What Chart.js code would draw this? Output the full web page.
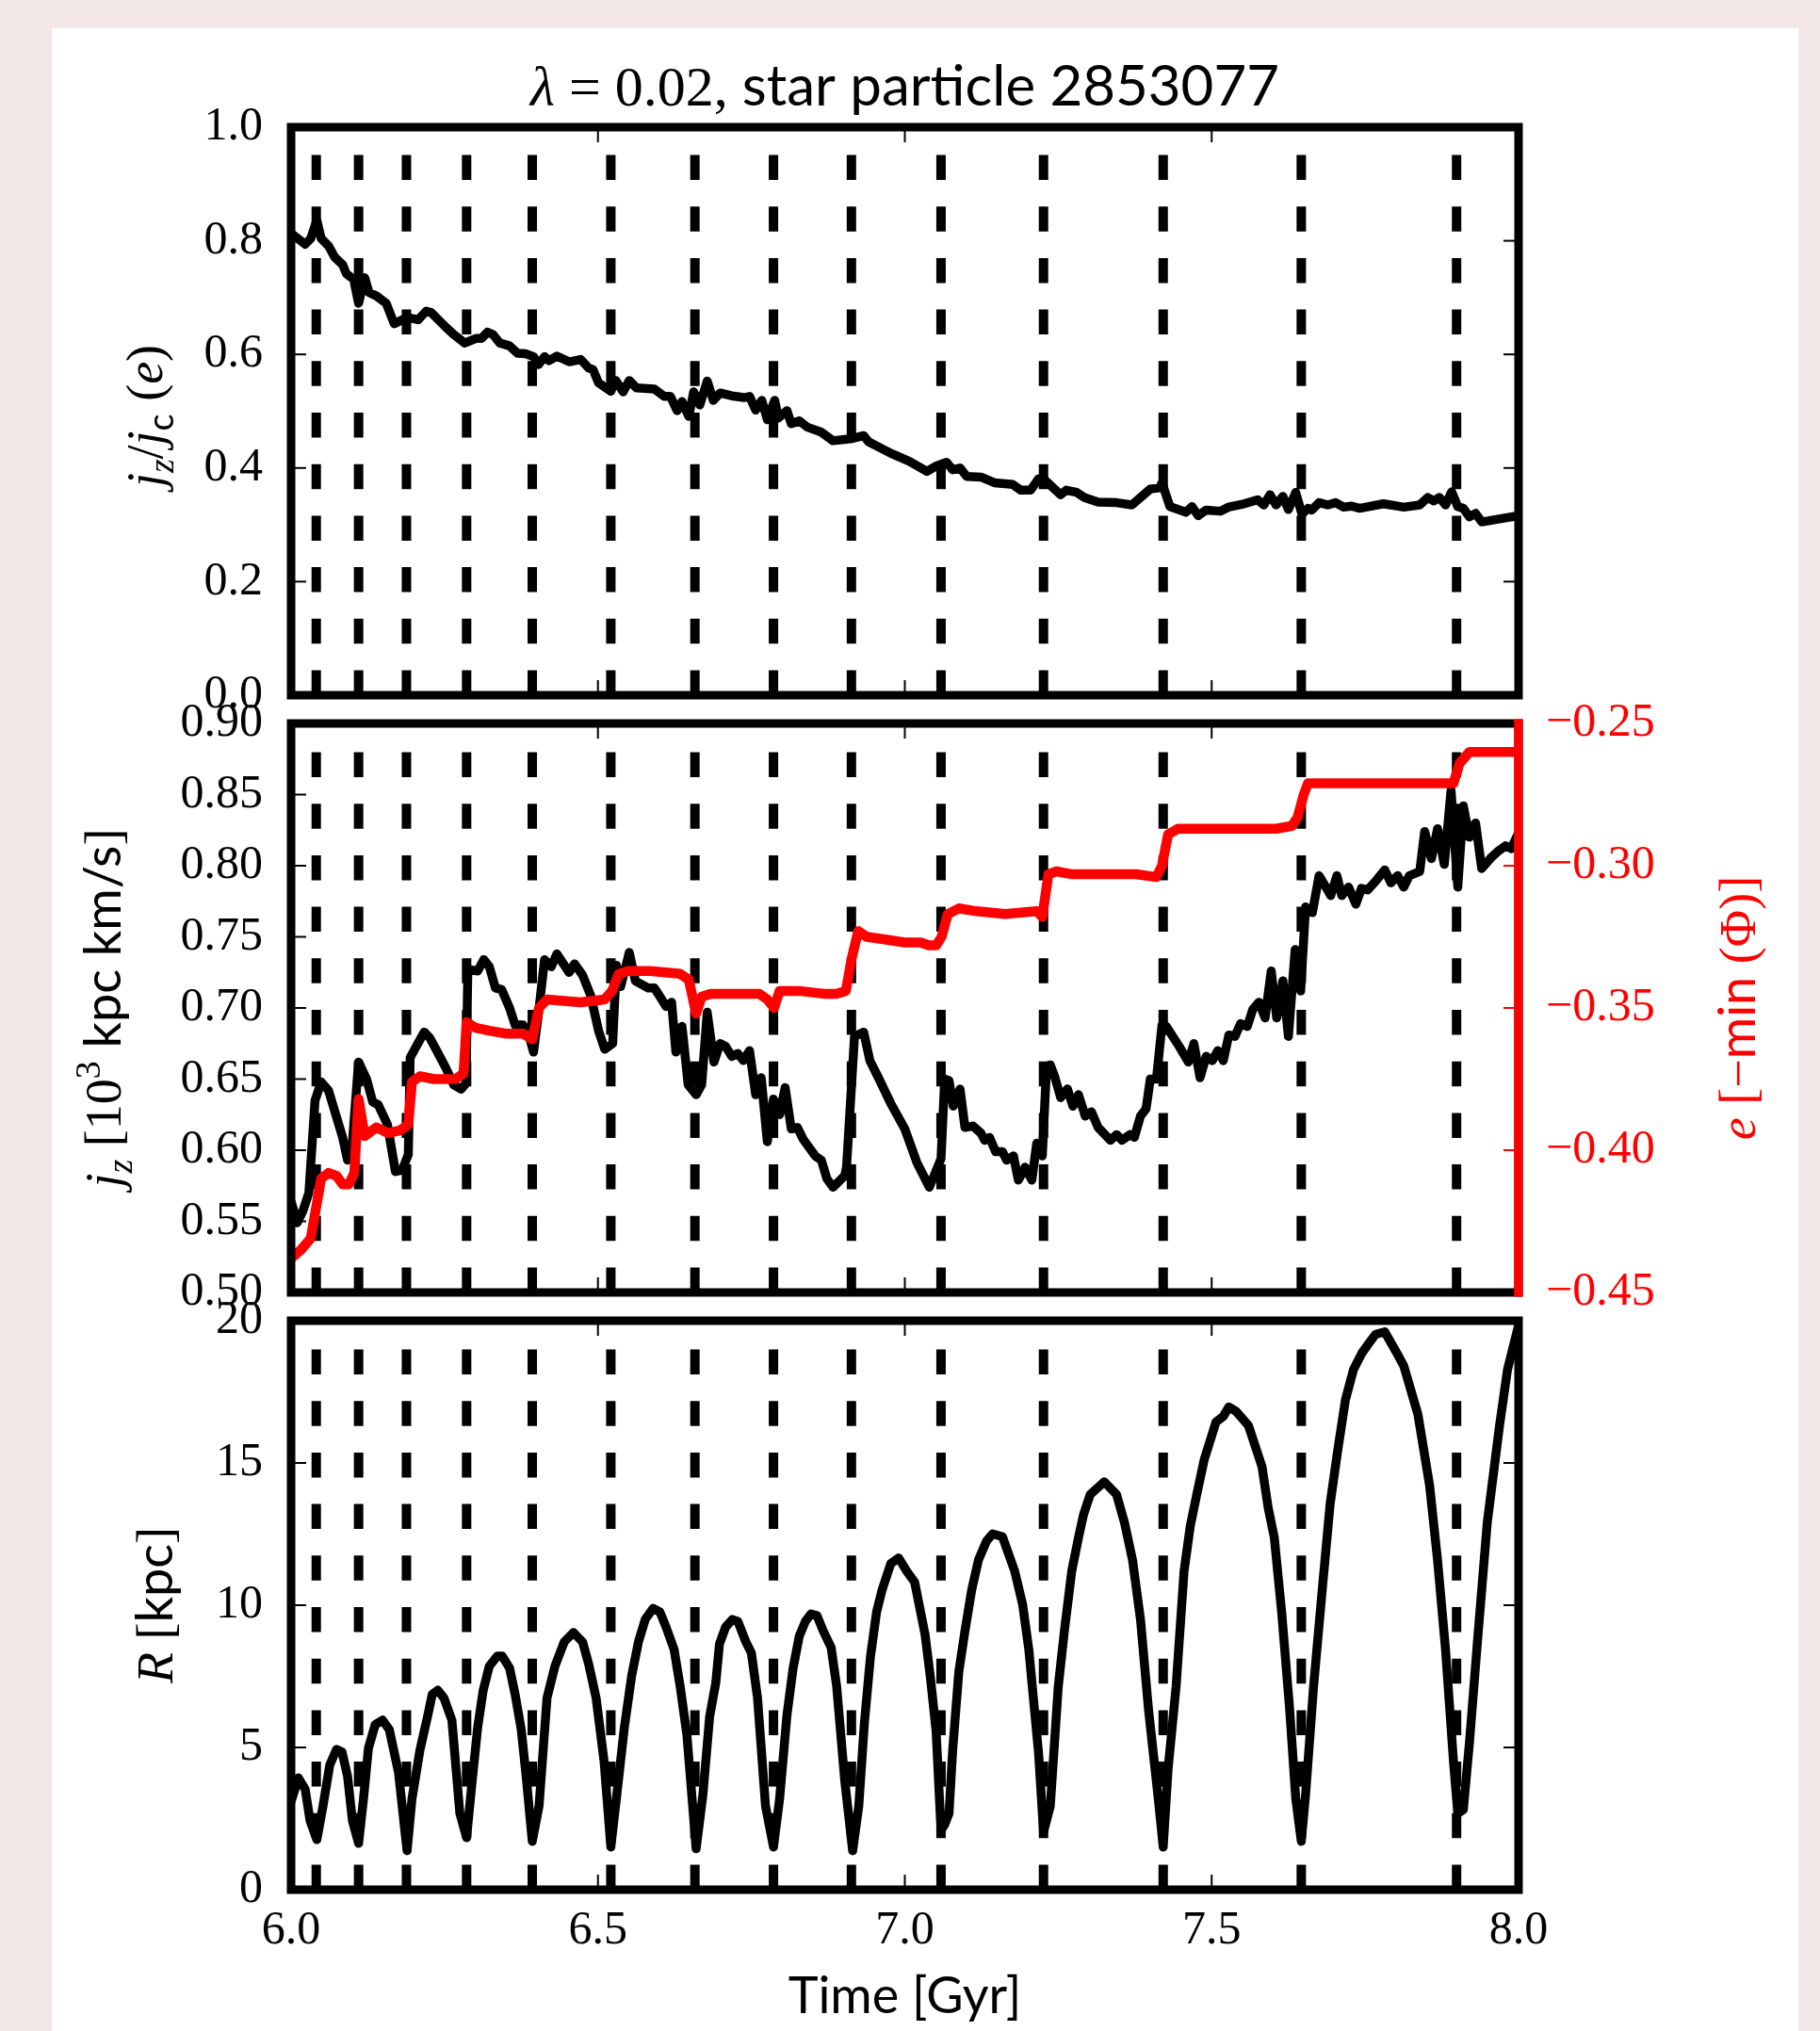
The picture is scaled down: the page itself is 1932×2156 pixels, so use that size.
<!DOCTYPE html>
<html>
<head>
<meta charset="utf-8">
<title>star particle 2853077</title>
<script src="https://cdn.jsdelivr.net/npm/chart.js@4.4.0/dist/chart.umd.min.js"></script>
<style>
    html, body { margin: 0; padding: 0; overflow: hidden; background: #f3e6e6; }
    #sheet { position: absolute; left: 55px; top: 30px; width: 1854px; height: 2126px; background: #ffffff; }
    canvas { position: absolute; left: 0; top: 0; }
</style>
</head>
<body>
<div id="sheet"></div>
<canvas id="panelTop" width="1932" height="2156"></canvas>
<canvas id="panelMid" width="1932" height="2156"></canvas>
<canvas id="panelBot" width="1932" height="2156"></canvas>
<script>
// --- data -------------------------------------------------------------
const timeTicks = [6.0, 6.5, 7.0, 7.5, 8.0];
const jzjcTicks = [0.0, 0.2, 0.4, 0.6, 0.8, 1.0];
const jzTicks = [0.50, 0.55, 0.60, 0.65, 0.70, 0.75, 0.80, 0.85, 0.90];
const eTicks = [-0.45, -0.40, -0.35, -0.30, -0.25];
const rTicks = [0, 5, 10, 15, 20];

// pericentre passages (dashed markers)
const pericentreTimes = [6.041, 6.110, 6.188, 6.286, 6.393, 6.521, 6.658, 6.786, 6.913, 7.059, 7.226, 7.421, 7.646, 7.899];

// circularity j_z / j_c(e)
const jzjcTime = [6.000, 6.023, 6.032, 6.042, 6.049, 6.061, 6.071, 6.084, 6.090, 6.102, 6.110, 6.120, 6.127, 6.139, 6.155, 6.168, 6.181, 6.194, 6.207, 6.220, 6.228, 6.252, 6.265, 6.283, 6.301, 6.310, 6.320, 6.329, 6.340, 6.356, 6.369, 6.382, 6.395, 6.403, 6.413, 6.420, 6.433, 6.453, 6.472, 6.485, 6.492, 6.501, 6.521, 6.529, 6.541, 6.551, 6.563, 6.592, 6.608, 6.618, 6.629, 6.637, 6.648, 6.656, 6.666, 6.678, 6.688, 6.699, 6.718, 6.738, 6.747, 6.757, 6.767, 6.776, 6.788, 6.794, 6.808, 6.815, 6.828, 6.841, 6.864, 6.883, 6.915, 6.933, 6.941, 6.977, 7.007, 7.036, 7.052, 7.068, 7.078, 7.090, 7.101, 7.124, 7.146, 7.176, 7.189, 7.205, 7.218, 7.228, 7.254, 7.263, 7.280, 7.293, 7.315, 7.345, 7.370, 7.384, 7.400, 7.415, 7.419, 7.432, 7.458, 7.468, 7.478, 7.491, 7.514, 7.527, 7.553, 7.575, 7.585, 7.595, 7.605, 7.616, 7.625, 7.637, 7.647, 7.657, 7.663, 7.675, 7.689, 7.702, 7.715, 7.728, 7.741, 7.780, 7.813, 7.839, 7.852, 7.862, 7.871, 7.881, 7.891, 7.901, 7.910, 7.920, 7.930, 7.940, 7.962, 8.000];
const jzjcVal = [0.813, 0.794, 0.804, 0.836, 0.804, 0.791, 0.771, 0.758, 0.742, 0.732, 0.690, 0.735, 0.709, 0.703, 0.690, 0.654, 0.661, 0.664, 0.661, 0.676, 0.674, 0.648, 0.635, 0.620, 0.628, 0.628, 0.639, 0.635, 0.620, 0.615, 0.602, 0.601, 0.596, 0.582, 0.596, 0.589, 0.597, 0.587, 0.591, 0.576, 0.573, 0.550, 0.535, 0.554, 0.534, 0.554, 0.541, 0.539, 0.526, 0.526, 0.501, 0.517, 0.491, 0.534, 0.511, 0.553, 0.519, 0.532, 0.527, 0.524, 0.526, 0.502, 0.519, 0.485, 0.519, 0.488, 0.501, 0.478, 0.483, 0.472, 0.463, 0.448, 0.452, 0.457, 0.446, 0.426, 0.412, 0.394, 0.404, 0.410, 0.397, 0.400, 0.385, 0.384, 0.374, 0.371, 0.361, 0.361, 0.381, 0.379, 0.353, 0.361, 0.357, 0.348, 0.340, 0.339, 0.335, 0.348, 0.363, 0.365, 0.374, 0.332, 0.322, 0.332, 0.316, 0.326, 0.324, 0.331, 0.337, 0.344, 0.335, 0.353, 0.335, 0.350, 0.327, 0.357, 0.319, 0.329, 0.326, 0.339, 0.335, 0.339, 0.331, 0.333, 0.329, 0.337, 0.331, 0.335, 0.348, 0.342, 0.348, 0.335, 0.358, 0.332, 0.329, 0.314, 0.320, 0.305, 0.309, 0.316];

// angular momentum j_z [10^3 kpc km/s]
const jzTime = [6.000, 6.010, 6.019, 6.029, 6.039, 6.049, 6.061, 6.084, 6.092, 6.100, 6.110, 6.123, 6.133, 6.142, 6.157, 6.170, 6.181, 6.191, 6.194, 6.204, 6.217, 6.226, 6.236, 6.252, 6.265, 6.277, 6.285, 6.288, 6.304, 6.314, 6.323, 6.333, 6.343, 6.356, 6.365, 6.378, 6.388, 6.395, 6.403, 6.413, 6.424, 6.433, 6.453, 6.462, 6.475, 6.488, 6.501, 6.511, 6.524, 6.530, 6.537, 6.551, 6.561, 6.582, 6.592, 6.601, 6.611, 6.620, 6.627, 6.637, 6.647, 6.660, 6.669, 6.678, 6.689, 6.699, 6.708, 6.718, 6.728, 6.737, 6.747, 6.757, 6.766, 6.776, 6.786, 6.796, 6.805, 6.815, 6.825, 6.834, 6.854, 6.864, 6.873, 6.883, 6.902, 6.905, 6.918, 6.933, 6.943, 6.957, 6.977, 7.000, 7.020, 7.040, 7.059, 7.065, 7.072, 7.079, 7.090, 7.098, 7.111, 7.124, 7.130, 7.138, 7.148, 7.159, 7.166, 7.177, 7.185, 7.196, 7.207, 7.215, 7.224, 7.231, 7.237, 7.244, 7.254, 7.265, 7.274, 7.283, 7.294, 7.304, 7.315, 7.335, 7.345, 7.354, 7.367, 7.374, 7.384, 7.393, 7.400, 7.410, 7.419, 7.426, 7.447, 7.462, 7.471, 7.481, 7.491, 7.501, 7.510, 7.519, 7.528, 7.538, 7.547, 7.558, 7.567, 7.577, 7.587, 7.597, 7.606, 7.616, 7.625, 7.636, 7.645, 7.653, 7.664, 7.675, 7.686, 7.694, 7.704, 7.712, 7.723, 7.735, 7.744, 7.754, 7.767, 7.782, 7.792, 7.803, 7.813, 7.822, 7.839, 7.847, 7.858, 7.868, 7.879, 7.890, 7.901, 7.910, 7.920, 7.930, 7.940, 7.956, 7.966, 7.979, 7.988, 8.000];
const jzVal = [0.564, 0.549, 0.557, 0.570, 0.635, 0.648, 0.642, 0.609, 0.593, 0.606, 0.662, 0.650, 0.634, 0.632, 0.618, 0.585, 0.586, 0.597, 0.665, 0.673, 0.683, 0.679, 0.671, 0.658, 0.646, 0.643, 0.647, 0.727, 0.726, 0.734, 0.729, 0.714, 0.713, 0.700, 0.688, 0.688, 0.680, 0.669, 0.696, 0.734, 0.729, 0.738, 0.725, 0.731, 0.723, 0.709, 0.684, 0.671, 0.675, 0.730, 0.715, 0.739, 0.719, 0.714, 0.714, 0.708, 0.701, 0.704, 0.669, 0.687, 0.646, 0.639, 0.646, 0.697, 0.662, 0.675, 0.673, 0.666, 0.668, 0.663, 0.670, 0.639, 0.651, 0.606, 0.636, 0.625, 0.644, 0.615, 0.616, 0.608, 0.596, 0.593, 0.580, 0.574, 0.582, 0.588, 0.680, 0.683, 0.663, 0.651, 0.633, 0.615, 0.591, 0.574, 0.594, 0.650, 0.649, 0.631, 0.643, 0.616, 0.617, 0.612, 0.607, 0.609, 0.599, 0.599, 0.593, 0.596, 0.579, 0.588, 0.579, 0.605, 0.596, 0.659, 0.660, 0.652, 0.637, 0.643, 0.631, 0.639, 0.624, 0.627, 0.616, 0.607, 0.611, 0.607, 0.611, 0.609, 0.624, 0.629, 0.650, 0.650, 0.688, 0.687, 0.673, 0.662, 0.675, 0.651, 0.666, 0.663, 0.670, 0.663, 0.681, 0.680, 0.689, 0.687, 0.699, 0.704, 0.693, 0.726, 0.693, 0.719, 0.680, 0.741, 0.712, 0.771, 0.767, 0.793, 0.785, 0.779, 0.793, 0.779, 0.785, 0.773, 0.784, 0.783, 0.789, 0.797, 0.788, 0.793, 0.785, 0.793, 0.796, 0.824, 0.805, 0.826, 0.801, 0.853, 0.785, 0.842, 0.820, 0.830, 0.798, 0.806, 0.810, 0.814, 0.812, 0.823];

// energy e [-min(Phi)]
const eTime = [6.000, 6.016, 6.032, 6.049, 6.061, 6.074, 6.084, 6.094, 6.103, 6.110, 6.120, 6.139, 6.158, 6.178, 6.191, 6.197, 6.210, 6.233, 6.268, 6.281, 6.286, 6.301, 6.323, 6.349, 6.378, 6.393, 6.404, 6.417, 6.472, 6.511, 6.523, 6.534, 6.549, 6.585, 6.634, 6.648, 6.660, 6.669, 6.685, 6.724, 6.763, 6.776, 6.787, 6.796, 6.828, 6.867, 6.889, 6.904, 6.913, 6.924, 6.938, 6.970, 7.000, 7.026, 7.039, 7.051, 7.060, 7.070, 7.088, 7.117, 7.163, 7.215, 7.224, 7.234, 7.247, 7.273, 7.319, 7.377, 7.410, 7.419, 7.429, 7.445, 7.488, 7.546, 7.605, 7.631, 7.640, 7.650, 7.657, 7.683, 7.741, 7.806, 7.871, 7.894, 7.904, 7.920, 7.956, 8.000];
const eVal = [-0.438, -0.435, -0.431, -0.410, -0.408, -0.409, -0.412, -0.412, -0.408, -0.382, -0.395, -0.392, -0.394, -0.393, -0.391, -0.376, -0.374, -0.375, -0.375, -0.373, -0.355, -0.357, -0.358, -0.359, -0.359, -0.361, -0.350, -0.347, -0.348, -0.347, -0.344, -0.338, -0.337, -0.337, -0.338, -0.340, -0.352, -0.346, -0.345, -0.345, -0.345, -0.347, -0.350, -0.344, -0.344, -0.345, -0.345, -0.344, -0.333, -0.323, -0.325, -0.326, -0.327, -0.327, -0.328, -0.328, -0.325, -0.317, -0.315, -0.316, -0.317, -0.316, -0.318, -0.303, -0.302, -0.303, -0.303, -0.303, -0.304, -0.300, -0.289, -0.287, -0.287, -0.287, -0.287, -0.286, -0.283, -0.275, -0.271, -0.271, -0.271, -0.271, -0.271, -0.271, -0.264, -0.260, -0.260, -0.260];

// galactocentric radius R [kpc]
const rTime = [6.000, 6.012, 6.023, 6.031, 6.042, 6.052, 6.063, 6.074, 6.083, 6.092, 6.100, 6.110, 6.118, 6.126, 6.137, 6.149, 6.160, 6.175, 6.189, 6.197, 6.210, 6.223, 6.230, 6.239, 6.249, 6.262, 6.275, 6.286, 6.294, 6.304, 6.313, 6.323, 6.336, 6.344, 6.356, 6.365, 6.375, 6.383, 6.393, 6.404, 6.417, 6.430, 6.445, 6.460, 6.475, 6.485, 6.497, 6.510, 6.521, 6.530, 6.543, 6.555, 6.566, 6.577, 6.590, 6.601, 6.611, 6.624, 6.634, 6.645, 6.660, 6.671, 6.682, 6.692, 6.698, 6.708, 6.719, 6.728, 6.741, 6.750, 6.760, 6.773, 6.786, 6.796, 6.808, 6.818, 6.828, 6.838, 6.847, 6.857, 6.867, 6.880, 6.889, 6.902, 6.915, 6.925, 6.934, 6.944, 6.954, 6.963, 6.977, 6.990, 7.003, 7.016, 7.033, 7.042, 7.051, 7.059, 7.065, 7.072, 7.078, 7.088, 7.098, 7.109, 7.120, 7.133, 7.143, 7.159, 7.179, 7.192, 7.202, 7.218, 7.226, 7.237, 7.250, 7.260, 7.272, 7.283, 7.291, 7.302, 7.325, 7.345, 7.358, 7.371, 7.384, 7.397, 7.413, 7.421, 7.429, 7.442, 7.455, 7.465, 7.475, 7.488, 7.507, 7.519, 7.528, 7.540, 7.560, 7.582, 7.592, 7.602, 7.614, 7.627, 7.637, 7.646, 7.653, 7.666, 7.679, 7.693, 7.705, 7.718, 7.731, 7.745, 7.758, 7.767, 7.782, 7.800, 7.813, 7.836, 7.855, 7.868, 7.881, 7.894, 7.901, 7.910, 7.920, 7.933, 7.949, 7.969, 7.982, 8.000];
const rVal = [3.10, 3.93, 3.53, 2.42, 1.76, 2.94, 4.38, 4.93, 4.84, 3.99, 2.42, 1.63, 3.20, 4.97, 5.80, 5.96, 5.63, 4.12, 1.37, 3.20, 4.91, 6.15, 6.87, 7.01, 6.74, 5.96, 2.68, 1.83, 3.60, 5.70, 7.01, 7.86, 8.21, 8.21, 7.79, 6.87, 5.63, 3.99, 1.70, 2.94, 6.74, 7.86, 8.71, 9.04, 8.71, 7.92, 6.74, 4.51, 1.50, 3.20, 5.70, 7.53, 8.71, 9.50, 9.89, 9.76, 9.23, 8.45, 7.14, 5.43, 1.44, 3.34, 6.09, 7.27, 8.64, 9.23, 9.50, 9.43, 8.71, 8.32, 6.74, 2.94, 1.50, 3.20, 6.15, 7.79, 8.91, 9.43, 9.69, 9.63, 9.10, 8.51, 7.14, 3.86, 1.37, 2.94, 5.83, 8.19, 9.76, 10.54, 11.46, 11.66, 11.20, 10.81, 8.97, 7.40, 5.56, 2.09, 2.29, 2.68, 4.91, 7.66, 9.10, 10.54, 11.59, 12.25, 12.51, 12.41, 11.20, 10.02, 8.45, 4.78, 2.03, 2.94, 7.14, 9.10, 11.20, 12.38, 13.17, 13.89, 14.34, 13.89, 12.90, 11.59, 9.50, 6.35, 3.20, 1.50, 4.25, 7.14, 11.20, 12.77, 13.82, 15.13, 16.44, 16.64, 16.97, 16.81, 16.31, 14.87, 13.43, 12.38, 9.76, 6.35, 3.20, 1.70, 3.34, 7.14, 10.28, 13.56, 15.39, 17.23, 18.28, 18.87, 19.26, 19.52, 19.61, 18.93, 18.41, 16.71, 14.22, 11.59, 8.45, 4.51, 2.68, 2.81, 5.17, 8.71, 12.90, 16.31, 18.28, 19.84];

// --- layout -----------------------------------------------------------
const W = 1932, H = 2156;
const LEFT = 309, RIGHT = 1612;
const RED = '#ff0000';
const TICK_LEN = 16;
const tickFont = { family: '"Liberation Serif", serif', size: 50 };
const LABEL_SIZE = 54;
const LINE_W = 9.5;

const pts = (xs, ys) => xs.map((x, i) => ({ x: x, y: ys[i] }));

function markerSets(ymin, ymax) {
    return pericentreTimes.map(t => ({
        data: [{ x: t, y: ymin }, { x: t, y: ymax }],
        borderColor: '#000',
        borderWidth: 10,
        borderDash: [26.5, 28.2],
        pointRadius: 0,
        order: 3
    }));
}

// mixed-font text: parts = [{t, it, sans, sub, sup}]
function richText(ctx, parts, x, y, angle, size, color) {
    ctx.save();
    ctx.translate(x, y);
    ctx.rotate(angle);
    ctx.fillStyle = color;
    ctx.textBaseline = 'alphabetic';
    ctx.textAlign = 'left';
    const fontOf = p => {
        const s = (p.sub || p.sup) ? size * 0.7 : size;
        const fam = p.sans ? 'Lato, sans-serif' : '"Liberation Serif", serif';
        return (p.it ? 'italic ' : '') + s + 'px ' + fam;
    };
    const widths = parts.map(p => { ctx.font = fontOf(p); return ctx.measureText(p.t).width; });
    let cx = -widths.reduce((a, b) => a + b, 0) / 2;
    parts.forEach((p, i) => {
        ctx.font = fontOf(p);
        const dy = p.sub ? size * 0.22 : (p.sup ? -size * 0.4 : 0);
        ctx.fillText(p.t, cx, dy);
        cx += widths[i];
    });
    ctx.restore();
}

// spines, inward ticks and axis titles
function makeFrame(spec) {
    return {
        id: 'frame_' + spec.id,
        afterDatasetsDraw(chart) {
            const { ctx, chartArea: a, scales } = chart;
            const seg = (x0, y0, x1, y1, c, w) => {
                ctx.strokeStyle = c;
                ctx.lineWidth = w;
                ctx.beginPath();
                ctx.moveTo(x0, y0);
                ctx.lineTo(x1, y1);
                ctx.stroke();
            };
            ctx.save();
            timeTicks.forEach(v => {
                const px = scales.x.getPixelForValue(v);
                seg(px, a.top, px, a.top + TICK_LEN, '#000', 2);
                seg(px, a.bottom, px, a.bottom - TICK_LEN, '#000', 2);
            });
            spec.yTicks.forEach(v => {
                const py = scales.y.getPixelForValue(v);
                seg(a.left, py, a.left + TICK_LEN, py, '#000', 2);
                if (!spec.y2Ticks) seg(a.right, py, a.right - TICK_LEN, py, '#000', 2);
            });
            if (spec.y2Ticks) {
                spec.y2Ticks.forEach(v => {
                    const py = scales.y2.getPixelForValue(v);
                    seg(a.right, py, a.right - TICK_LEN, py, RED, 2);
                });
            }
            ctx.strokeStyle = '#000';
            ctx.lineWidth = 9;
            ctx.strokeRect(a.left, a.top, a.right - a.left, a.bottom - a.top);
            if (spec.y2Ticks) seg(a.right, a.top - 4.5, a.right, a.bottom + 4.5, RED, 9.5);
            ctx.restore();
        },
        afterDraw(chart) {
            const { ctx, chartArea: a } = chart;
            const midY = (a.top + a.bottom) / 2;
            const midX = (a.left + a.right) / 2;
            if (spec.title) richText(ctx, spec.title, midX, 112, 0, 60, '#000');
            if (spec.yTitle) richText(ctx, spec.yTitle, spec.yTitleX, midY + (spec.yTitleDy || 0), -Math.PI / 2, LABEL_SIZE, '#000');
            if (spec.y2Title) richText(ctx, spec.y2Title, spec.y2TitleX, midY, -Math.PI / 2, LABEL_SIZE, RED);
            if (spec.xTitle) richText(ctx, spec.xTitle, midX, 2137, 0, LABEL_SIZE, '#000');
        }
    };
}

function yAxis(min, max, ticks, digits, width, color, position) {
    return {
        type: 'linear',
        position: position || 'left',
        min: min,
        max: max,
        grid: { display: false },
        border: { display: false },
        afterBuildTicks: s => { s.ticks = ticks.map(v => ({ value: v })); },
        afterFit: s => { s.width = width; },
        ticks: {
            font: tickFont,
            color: color || '#000',
            padding: position === 'right' ? 21 : 22,
            callback: v => (v < 0 ? '\u2212' + Math.abs(v).toFixed(digits) : v.toFixed(digits))
        }
    };
}

function xAxis(show) {
    return {
        type: 'linear',
        min: 6,
        max: 8,
        display: show,
        grid: { display: false },
        border: { display: false },
        afterBuildTicks: s => { s.ticks = timeTicks.map(v => ({ value: v })); },
        afterFit: s => { s.height = show ? 100 : 0; },
        ticks: { font: tickFont, color: '#000', padding: 6, maxRotation: 0, autoSkip: false, callback: v => v.toFixed(1) }
    };
}

const common = {
    responsive: false,
    animation: false,
    devicePixelRatio: 1,
    events: [],
    plugins: { legend: { display: false }, tooltip: { enabled: false } }
};

// top panel: j_z / j_c(e)
new Chart(document.getElementById('panelTop'), {
    type: 'line',
    data: {
        datasets: [{
            data: pts(jzjcTime, jzjcVal),
            borderColor: '#000',
            borderWidth: LINE_W,
            borderJoinStyle: 'round',
            pointRadius: 0,
            order: 1
        }].concat(markerSets(0, 1))
    },
    options: Object.assign({}, common, {
        layout: { padding: { left: 0, right: W - RIGHT, top: 135, bottom: H - 738 } },
        scales: { x: xAxis(false), y: yAxis(0, 1, jzjcTicks, 1, LEFT) }
    }),
    plugins: [makeFrame({
        id: 'top',
        yTicks: jzjcTicks,
        title: [{ t: 'λ', it: true }, { t: ' = 0.02, ' }, { t: 'star particle 2853077', sans: true }],
        yTitle: [{ t: 'j', it: true }, { t: 'z', it: true, sub: true }, { t: '/' }, { t: 'j', it: true }, { t: 'c', sub: true, sans: true }, { t: ' (' }, { t: 'e', it: true }, { t: ')' }],
        yTitleX: 172,
        yTitleDy: 5
    })]
});

// middle panel: j_z and e (twin axis)
new Chart(document.getElementById('panelMid'), {
    type: 'line',
    data: {
        datasets: [{
            data: pts(eTime, eVal),
            yAxisID: 'y2',
            borderColor: RED,
            borderWidth: 10.5,
            borderJoinStyle: 'round',
            pointRadius: 0,
            order: 1
        }, {
            data: pts(jzTime, jzVal),
            yAxisID: 'y',
            borderColor: '#000',
            borderWidth: LINE_W,
            borderJoinStyle: 'round',
            pointRadius: 0,
            order: 2
        }].concat(markerSets(0.5, 0.9))
    },
    options: Object.assign({}, common, {
        layout: { padding: { left: 0, right: 0, top: 768, bottom: H - 1372 } },
        scales: {
            x: xAxis(false),
            y: yAxis(0.5, 0.9, jzTicks, 2, LEFT),
            y2: yAxis(-0.45, -0.25, eTicks, 2, W - RIGHT, RED, 'right')
        }
    }),
    plugins: [makeFrame({
        id: 'mid',
        yTicks: jzTicks,
        y2Ticks: eTicks,
        yTitle: [{ t: 'j', it: true }, { t: 'z', it: true, sub: true }, { t: ' [10' }, { t: '3', sup: true }, { t: ' kpc km/s', sans: true }, { t: ']' }],
        yTitleX: 128,
        y2Title: [{ t: 'e', it: true }, { t: ' [\u2212' }, { t: 'min', sans: true }, { t: ' (Φ)' }, { t: ']' }],
        y2TitleX: 1863
    })]
});

// bottom panel: R
new Chart(document.getElementById('panelBot'), {
    type: 'line',
    data: {
        datasets: [{
            data: pts(rTime, rVal),
            borderColor: '#000',
            borderWidth: LINE_W,
            borderJoinStyle: 'round',
            pointRadius: 0,
            order: 1
        }].concat(markerSets(0, 20))
    },
    options: Object.assign({}, common, {
        layout: { padding: { left: 0, right: W - RIGHT, top: 1402, bottom: H - 2006 - 100 } },
        scales: { x: xAxis(true), y: yAxis(0, 20, rTicks, 0, LEFT) }
    }),
    plugins: [makeFrame({
        id: 'bot',
        yTicks: rTicks,
        yTitle: [{ t: 'R', it: true }, { t: ' [' }, { t: 'kpc', sans: true }, { t: ']' }],
        yTitleX: 183,
        xTitle: [{ t: 'Time [Gyr]', sans: true }]
    })]
});
</script>
</body>
</html>
